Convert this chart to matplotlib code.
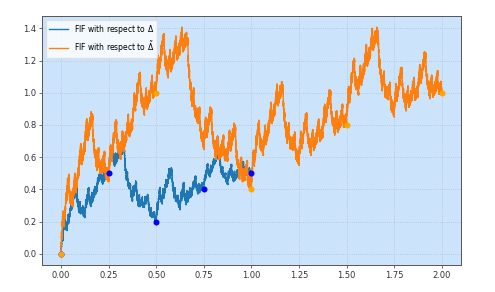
import numpy as np
import matplotlib
matplotlib.use("Agg")
import matplotlib.pyplot as plt

# interpolation data for partition Delta
x_delta = [0.0, 0.25, 0.5, 0.75, 1.0]
y_delta = [0.0, 0.5, 0.2, 0.4, 0.5]
d_delta = [0.5, 0.5, 0.52, 0.4]

# interpolation data for partition Delta tilde
x_tilde = [0.0, 0.5, 1.0, 1.5, 2.0]
y_tilde = [0.0, 1.0, 0.4, 0.8, 1.0]
d_tilde = [0.52, 0.52, 0.5, 0.5]

legend_labels = ["FIF with respect to $\\Delta$", "FIF with respect to $\\tilde{\\Delta}$"]


def fif(xs, ys, d, levels=7):
    # attractor of the affine IFS built on the interpolation points
    xs = np.asarray(xs, float)
    ys = np.asarray(ys, float)
    x0, xn = xs[0], xs[-1]
    y0, yn = ys[0], ys[-1]
    X, Y = xs.copy(), ys.copy()
    for _ in range(levels):
        nx, ny = [], []
        for i in range(1, len(xs)):
            a = (xs[i] - xs[i - 1]) / (xn - x0)
            e = xs[i - 1] - a * x0
            c = (ys[i] - ys[i - 1] - d[i - 1] * (yn - y0)) / (xn - x0)
            f = ys[i - 1] - c * x0 - d[i - 1] * y0
            nx.append(a * X + e)
            ny.append(c * X + d[i - 1] * Y + f)
        X = np.concatenate(nx)
        Y = np.concatenate(ny)
        order = np.argsort(X, kind="stable")
        X, Y = X[order], Y[order]
    return X, Y


bx, by = fif(x_delta, y_delta, d_delta)
ox, oy = fif(x_tilde, y_tilde, d_tilde)

fig = plt.figure(figsize=(4.95, 2.92), dpi=100)
ax = fig.add_axes([0.085, 0.092, 0.846, 0.854])
ax.set_facecolor("#cce4fb")

ax.plot(bx, by, color="#1f77b4", lw=1.0, label=legend_labels[0])
ax.plot(ox, oy, color="#ff7f0e", lw=1.0, label=legend_labels[1])
ax.scatter(x_delta, y_delta, color="blue", s=11, zorder=3)
ax.scatter(x_tilde, y_tilde, color="orange", s=11, zorder=3)

ax.grid(True, linestyle=":", color="#a9b7c6", linewidth=0.6, alpha=0.8)
ax.tick_params(labelsize=6, length=2, width=0.5, pad=2, colors="#333333")
for s in ax.spines.values():
    s.set_linewidth(0.7)
    s.set_color("#555555")
ax.legend(loc="upper left", fontsize=5.5, framealpha=0.8, edgecolor="#dddddd",
          handlelength=2.5)

fig.savefig("out.png", dpi=100)
